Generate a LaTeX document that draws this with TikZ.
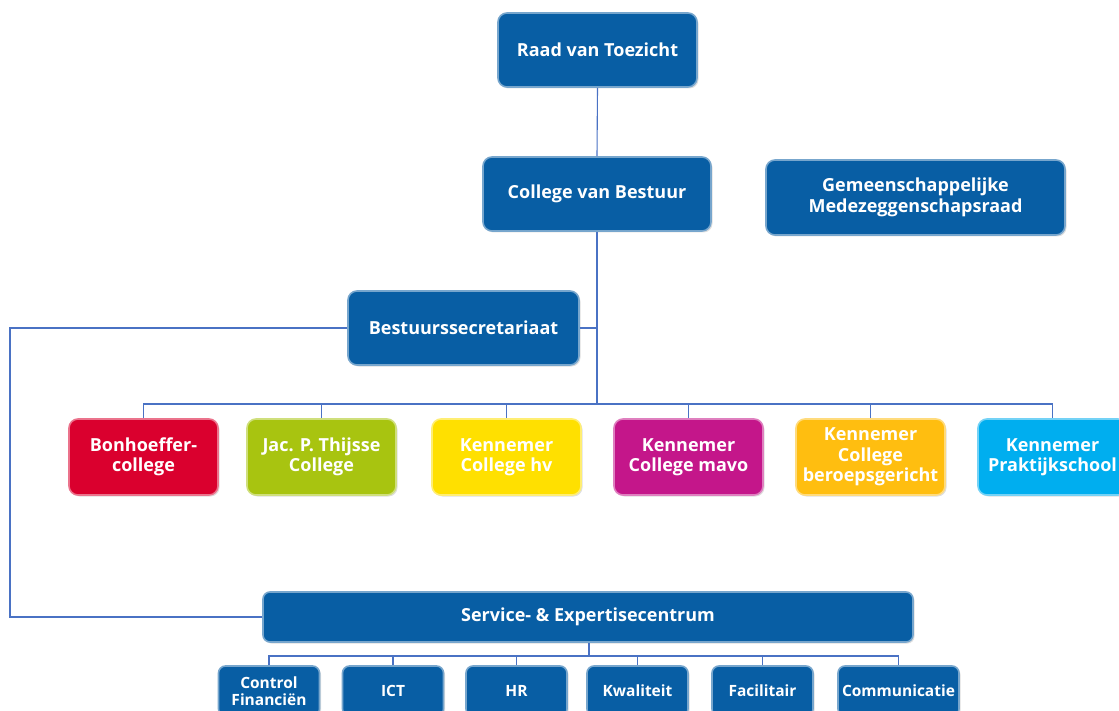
\documentclass[tikz,border=0pt]{standalone}
\usepackage{fontspec}
\setmainfont{Open Sans}
\usetikzlibrary{shadows}
\definecolor{boxblue}{RGB}{8,94,164}
\definecolor{schred}{RGB}{218,0,46}
\definecolor{schgreen}{RGB}{168,196,16}
\definecolor{schyellow}{RGB}{255,224,0}
\definecolor{schmagenta}{RGB}{196,22,138}
\definecolor{schorange}{RGB}{255,190,16}
\definecolor{schcyan}{RGB}{0,174,239}
\definecolor{linecol}{RGB}{74,114,196}
\tikzset{
  orgbox/.style={rounded corners=9pt, fill=#1, draw=#1!55!white, line width=1.6pt,
    text=white, font=\bfseries\fontsize{18}{20.5}\selectfont, align=center, inner sep=2pt,
    drop shadow={shadow xshift=1.5pt, shadow yshift=-1.5pt, opacity=0.25}},
  smallbox/.style={orgbox=boxblue, font=\bfseries\fontsize{15.5}{16.5}\selectfont,
    minimum width=101pt, minimum height=50pt, rounded corners=7pt},
  school/.style={orgbox=#1, minimum width=149pt, minimum height=76pt},
  conn/.style={draw=linecol, line width=1.1pt},
}
\begin{document}
\begin{tikzpicture}[x=1pt,y=-1pt]
\useasboundingbox (0,0) rectangle (1119,711);
\clip (0,0) rectangle (1119,711);
% top level
\node[orgbox=boxblue, minimum width=199pt, minimum height=74pt] (rvt) at (597.5,50) {Raad van Toezicht};
\node[orgbox=boxblue, minimum width=228pt, minimum height=74pt] (cvb) at (597,194) {College van Bestuur};
\node[orgbox=boxblue, minimum width=299pt, minimum height=75pt] (gmr) at (915.5,197.5) {Gemeenschappelijke\\Medezeggenschapsraad};
\node[orgbox=boxblue, minimum width=231pt, minimum height=74pt] (bs) at (463.5,328) {Bestuurssecretariaat};
% schools
\node[school=schred] (s1) at (143.5,457) {Bonhoeffer-\\college};
\node[school=schgreen] (s2) at (321.5,457) {Jac. P. Thijsse\\College};
\node[school=schyellow] (s3) at (506.5,457) {Kennemer\\College hv};
\node[school=schmagenta] (s4) at (688.5,457) {Kennemer\\College mavo};
\node[school=schorange] (s5) at (870.5,457) {Kennemer\\College\\beroepsgericht};
\node[school=schcyan] (s6) at (1052.5,457) {Kennemer\\Praktijkschool};
% service centre
\node[orgbox=boxblue, minimum width=650pt, minimum height=50pt, rounded corners=7pt] (sec) at (588,617) {Service- \& Expertisecentrum};
\node[smallbox] (b1) at (269,691) {Control\\Financiën};
\node[smallbox] (b2) at (393,691) {ICT};
\node[smallbox] (b3) at (516.5,691) {HR};
\node[smallbox] (b4) at (637.5,691) {Kwaliteit};
\node[smallbox] (b5) at (762.5,691) {Facilitair};
\node[smallbox, minimum width=121pt] (b6) at (898.5,691) {Communicatie};
% connector points
\coordinate (busS) at (597,404);
\coordinate (lcorner) at (10,331);
\coordinate (busB) at (589,656);
% connectors
\draw[conn] (rvt.south) -- (cvb.north);
\draw[conn] (cvb.south) -- (busS);
\draw[conn] (bs.east) -- (bs.east -| busS);
\draw[conn] (s1.north) |- (busS) -| (s6.north);
\foreach \s in {s2,s3,s4,s5}{\draw[conn] (\s.north) -- (\s.north |- busS);}
\draw[conn] (bs.west) -- (bs.west -| lcorner) -- (lcorner |- sec.west) -- (sec.west);
\draw[conn] (sec.south -| busB) -- (busB);
\draw[conn] (b1.north) |- (busB) -| (b6.north);
\foreach \s in {b2,b3,b4,b5}{\draw[conn] (\s.north) -- (\s.north |- busB);}
\end{tikzpicture}
\end{document}
